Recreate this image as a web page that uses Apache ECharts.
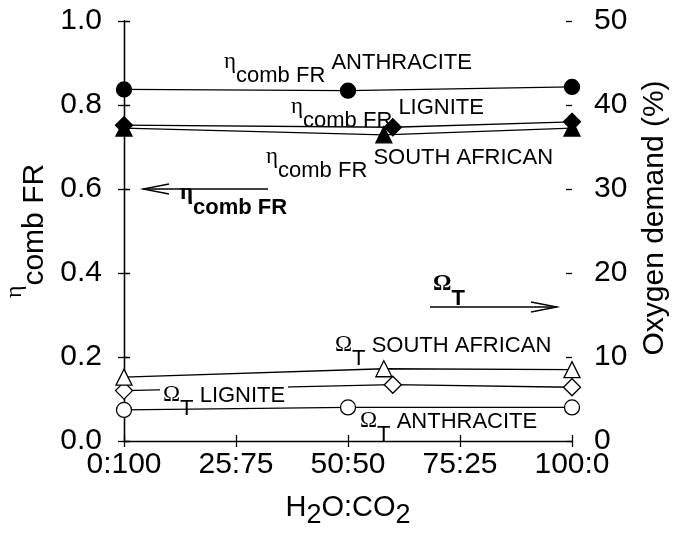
<!DOCTYPE html>
<html>
<head>
<meta charset="utf-8">
<script src="https://cdn.jsdelivr.net/npm/echarts@6/dist/echarts.min.js"></script>
<style>
  html, body { margin: 0; padding: 0; background: #fff; }
  #chart { width: 675px; height: 535px; }
</style>
</head>
<body>
<div id="chart"></div>
<script>
// H2O:CO2 ratio axis (value axis 0..100, labelled as ratios)
const xTickLabels = ['0:100', '25:75', '50:50', '75:25', '100:0'];

// H2O share (%) at which each coal was measured
const xAnthracite = [0, 50, 100];
const xLignite = [0, 60, 100];
const xSouthAfrican = [0, 58, 100];

// Combustion efficiency in the fuel reactor (left axis)
const etaAnthracite = [0.837, 0.834, 0.843];
const etaLignite = [0.752, 0.747, 0.760];
const etaSouthAfrican = [0.745, 0.729, 0.745];

// Total oxygen demand, % (right axis)
const omegaAnthracite = [3.7, 4.0, 4.0];
const omegaLignite = [6.0, 6.7, 6.4];
const omegaSouthAfrican = [7.6, 8.6, 8.5];

const SANS = 'Liberation Sans, Arial, Helvetica, sans-serif';
const SERIF = 'Liberation Serif, Times New Roman, serif';
const BLACK = '#000';

function pairs(xs, ys) {
  return xs.map((x, i) => [x, ys[i]]);
}

function lineSeries(name, xs, ys, yAxisIndex, symbol, size, filled) {
  return {
    name: name,
    type: 'line',
    yAxisIndex: yAxisIndex,
    data: pairs(xs, ys),
    symbol: symbol,
    symbolSize: size,
    showAllSymbol: true,
    animation: false,
    lineStyle: { color: BLACK, width: 1.3 },
    itemStyle: { color: filled ? BLACK : '#fff', borderColor: BLACK, borderWidth: 1.3 },
    z: 3
  };
}

// rich-text styles for annotations: g = Greek letter, s = subscript, m = main text
function annoRich(bold) {
  const w = bold ? 'bold' : 'normal';
  return {
    g: { fontFamily: SERIF, fontSize: 23, fontWeight: w, padding: [0, 0, 15, 0], fill: BLACK, color: BLACK },
    s: { fontFamily: SANS, fontSize: 22, fontWeight: w, padding: [13, 0, 0, 0], fill: BLACK, color: BLACK },
    m: { fontFamily: SANS, fontSize: 22, fontWeight: w, padding: [0, 0, 13, 0], fill: BLACK, color: BLACK }
  };
}

function annotation(text, x, y, bold) {
  return {
    type: 'text',
    x: x,
    y: y,
    z: 100,
    silent: true,
    style: {
      text: text,
      rich: annoRich(bold),
      fill: BLACK,
      font: '22px ' + SANS,
      align: 'left',
      verticalAlign: 'middle',
      textAlign: 'left',
      textVerticalAlign: 'middle'
    }
  };
}

function arrow(x1, x2, y, headAtStart) {
  const hx = headAtStart ? x1 : x2;
  const dir = headAtStart ? 1 : -1;
  return {
    type: 'group',
    z: 100,
    silent: true,
    children: [
      { type: 'line', shape: { x1: x1, y1: y, x2: x2, y2: y }, style: { stroke: BLACK, lineWidth: 1.3 } },
      { type: 'polyline', shape: { points: [[hx + dir * 26, y - 5], [hx, y], [hx + dir * 26, y + 5]] },
        style: { stroke: BLACK, lineWidth: 1.3, fill: null } }
    ]
  };
}

const axisLineStyle = { show: true, lineStyle: { color: BLACK, width: 1.3 } };
const tickLabelStyle = { color: BLACK, fontFamily: SANS, fontSize: 30 };

const chart = echarts.init(document.getElementById('chart'), null, { renderer: 'canvas' });

chart.setOption({
  backgroundColor: '#fff',
  animation: false,
  grid: { left: 124, right: 103, top: 21, bottom: 94, containLabel: false, outerBoundsMode: 'none' },
  xAxis: [
    {
      type: 'value', min: 0, max: 100, interval: 25, position: 'bottom',
      axisLine: axisLineStyle,
      axisTick: { show: true, inside: false, length: 6, lineStyle: { color: BLACK, width: 1.3 } },
      axisLabel: Object.assign({ margin: 9, formatter: v => xTickLabels[Math.round(v / 25)] }, tickLabelStyle),
      splitLine: { show: false },
      name: 'H{s|2}O:CO{s|2}',
      nameLocation: 'middle',
      nameGap: 45,
      nameTextStyle: {
        color: BLACK, fontFamily: SANS, fontSize: 29,
        rich: {
          s: { color: BLACK, fontFamily: SANS, fontSize: 27, padding: [16, 0, 0, 0] }
        }
      }
    },
    {
      type: 'value', min: 0, max: 100, interval: 25, position: 'bottom',
      axisLine: { show: false },
      axisTick: { show: true, inside: true, length: 6, lineStyle: { color: BLACK, width: 1.3 } },
      axisLabel: { show: false },
      splitLine: { show: false }
    }
  ],
  yAxis: [
    {
      type: 'value', min: 0, max: 1, interval: 0.2, position: 'left',
      axisLine: axisLineStyle,
      axisTick: { show: true, inside: false, length: 6, lineStyle: { color: BLACK, width: 1.3 } },
      axisLabel: Object.assign({ margin: 22, formatter: v => v.toFixed(1) }, tickLabelStyle),
      splitLine: { show: false },
      name: '{g|η}{s|comb FR}',
      nameLocation: 'middle',
      nameGap: 73,
      nameTextStyle: {
        color: BLACK, fontFamily: SANS, fontSize: 30,
        rich: {
          g: { color: BLACK, fontFamily: SERIF, fontSize: 24, padding: [0, 0, 20, 0] },
          s: { color: BLACK, fontFamily: SANS, fontSize: 30, padding: [20, 0, 0, 0] }
        }
      }
    },
    {
      type: 'value', min: 0, max: 50, interval: 10, position: 'right',
      axisLine: axisLineStyle,
      axisTick: { show: true, inside: false, length: 6, lineStyle: { color: BLACK, width: 1.3 } },
      axisLabel: Object.assign({ margin: 22 }, tickLabelStyle),
      splitLine: { show: false }
    },
    {
      type: 'value', min: 0, max: 1, interval: 0.2, position: 'left',
      axisLine: { show: false },
      axisTick: { show: true, inside: true, length: 6, lineStyle: { color: BLACK, width: 1.3 } },
      axisLabel: { show: false },
      splitLine: { show: false }
    },
    {
      type: 'value', min: 0, max: 50, interval: 10, position: 'right',
      axisLine: { show: false },
      axisTick: { show: true, inside: true, length: 6, lineStyle: { color: BLACK, width: 1.3 } },
      axisLabel: { show: false },
      splitLine: { show: false }
    }
  ],
  series: [
    lineSeries('ηcomb FR anthracite', xAnthracite, etaAnthracite, 0, 'circle', 15, true),
    lineSeries('ηcomb FR lignite', xLignite, etaLignite, 0, 'diamond', 17, true),
    lineSeries('ηcomb FR South African', xSouthAfrican, etaSouthAfrican, 0, 'triangle', 16, true),
    lineSeries('ΩT anthracite', xAnthracite, omegaAnthracite, 1, 'circle', 15, false),
    lineSeries('ΩT lignite', xLignite, omegaLignite, 1, 'diamond', 17, false),
    lineSeries('ΩT South African', xSouthAfrican, omegaSouthAfrican, 1, 'triangle', 16, false)
  ],
  graphic: [
    // right-hand axis title
    {
      type: 'text', x: 655, y: 218, rotation: Math.PI / 2, silent: true,
      style: {
        text: 'Oxygen demand (%)', fill: BLACK, font: '30px ' + SANS,
        align: 'center', verticalAlign: 'middle', textAlign: 'center', textVerticalAlign: 'middle'
      }
    },
    annotation('{g|η}{s|comb FR}{m| ANTHRACITE}', 224, 69, false),
    annotation('{g|η}{s|comb FR}{m| LIGNITE}', 291, 114, false),
    annotation('{g|η}{s|comb FR}{m| SOUTH AFRICAN}', 266, 164, false),
    arrow(143, 268, 189, true),
    annotation('{g|η}{s|comb FR}', 180, 201, true),
    annotation('{g|Ω}{s|T}', 433, 292, true),
    arrow(430, 557, 307, false),
    annotation('{g|Ω}{s|T}{m| SOUTH AFRICAN}', 335, 352, false),
    // white backing so the label sits over the lignite line
    { type: 'rect', z: 90, silent: true, shape: { x: 160, y: 384, width: 128, height: 14 }, style: { fill: '#fff' } },
    annotation('{g|Ω}{s|T}{m| LIGNITE}', 163, 402, false),
    annotation('{g|Ω}{s|T}{m| ANTHRACITE}', 360, 428, false)
  ]
});
</script>
</body>
</html>
